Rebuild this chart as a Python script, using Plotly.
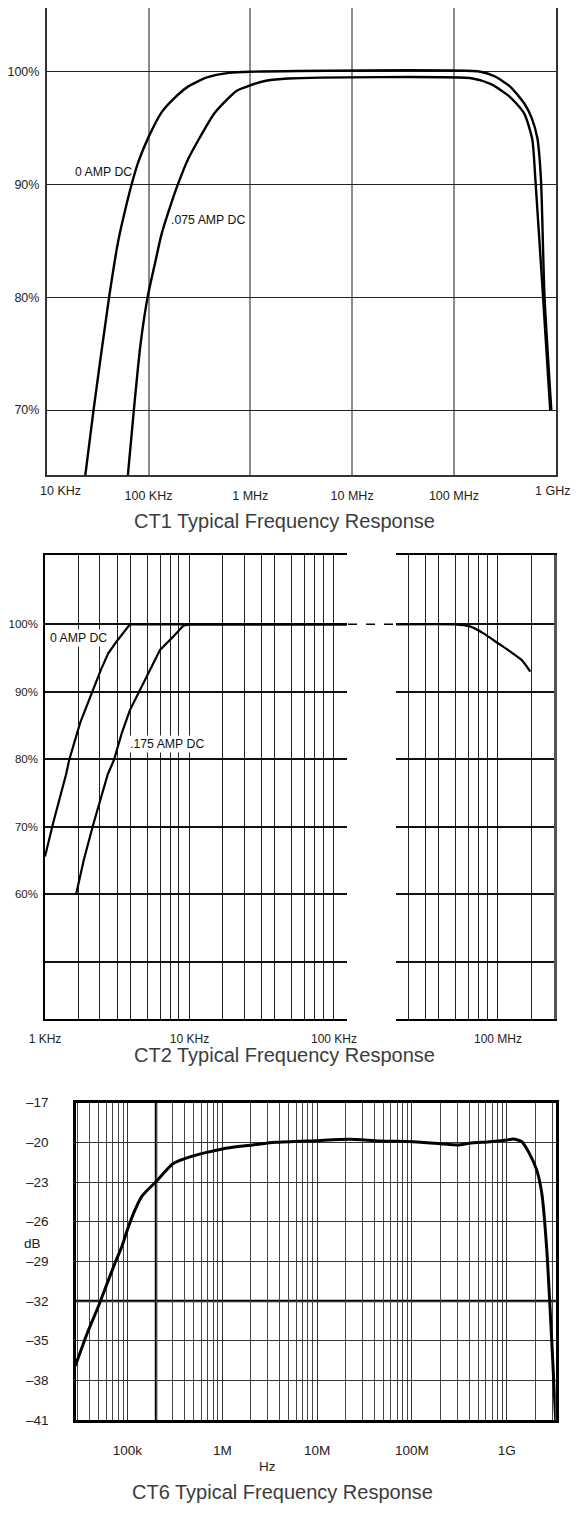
import math
import plotly.graph_objects as go

FONT = "Liberation Sans, Arial, sans-serif"
# page body keeps an 8px margin, so the figure is drawn 8px in from the window edge
PAGE_PAD = 8
W, H = 580 - 2 * PAGE_PAD, 1520 - 2 * PAGE_PAD

# ---- CT1 (percent vs frequency, Hz)
ct1_hz_0a = [23700, 28840, 41020, 50470, 62230, 69180, 79430, 100000, 134300, 176600,
             246600, 375000, 616600, 1.0e6, 1.82e8, 2.51e8, 3.548e8, 4.898e8,
             5.754e8, 6.607e8, 7.161e8, 7.762e8, 9.057e8]
ct1_pct_0a = [63.9, 70.0, 80.0, 85.0, 88.6, 90.2, 92.0, 94.2, 96.4, 97.6,
              98.7, 99.5, 99.9, 100.0, 100.0, 99.6, 98.7, 97.2,
              96.0, 94.1, 90.5, 80.1, 70.0]
ct1_hz_075a = [62400, 71800, 83400, 98400, 116400, 134300, 162600, 192300, 246600,
               316200, 442600, 731100, 1.0e6, 1.426e6, 2.35e6, 1.528e8, 2.317e8,
               3.524e8, 4.898e8, 5.888e8, 6.31e8, 7.464e8, 8.831e8]
ct1_pct_075a = [64.0, 70.0, 75.8, 80.1, 83.1, 85.6, 88.0, 89.9, 92.3,
                94.1, 96.3, 98.3, 98.8, 99.2, 99.4, 99.4, 98.9,
                97.8, 96.3, 94.0, 90.5, 80.4, 70.0]
ct1_ticks_hz = [1e5, 1e6, 1e7, 1e8]
ct1_ticks_txt = ["100 KHz", "1 MHz", "10 MHz", "100 MHz"]
ct1_pct_ticks = [70, 80, 90, 100]

# ---- CT2
ct2_hz_0a = [1000, 1140, 1400, 1470, 1750, 2050, 2440, 2740, 3140, 3870, 125000]
ct2_pct_0a = [65.6, 70.6, 77.8, 79.9, 85.4, 89.3, 93.3, 95.7, 97.5, 100.0, 100.0]
ct2_hz_175a = [1640, 1850, 2140, 2390, 2720, 3000, 3400, 3870, 5060, 6250, 7730,
               9060, 10000, 125000]
ct2_pct_175a = [60.0, 65.0, 70.1, 73.7, 77.8, 79.9, 83.9, 87.3, 92.3, 96.2, 98.2,
                99.8, 100.0, 100.0]
ct2_hf_hz = [1.9e7, 5.05e7, 6.4e7, 7.9e7, 1.0e8, 1.21e8, 1.46e8, 1.67e8]
ct2_hf_pct = [100.0, 100.0, 99.7, 98.7, 97.2, 96.0, 94.7, 93.0]
ct2_grid_steps = [1, 1.7, 2.4, 3.15, 3.9, 5.1, 6.3, 7.35, 8.45]
ct2_labels = {1e3: "1 KHz", 1e4: "10 KHz", 1e5: "100 KHz", 1e8: "100 MHz"}
ct2_pct_ticks = [50, 60, 70, 80, 90, 100]
ct2_pct_txt = ["", "60%", "70%", "80%", "90%", "100%"]

# ---- CT6 (dB vs Hz)
ct6_hz = [28200, 37800, 49400, 59300, 74100, 87000, 100000, 117000, 141000, 198000,
          304000, 457000, 1.0e6, 1.54e6, 2.09e6, 3.61e6, 9.73e6, 2.19e7, 4.6e7,
          1.035e8, 1.98e8, 3.04e8, 4.03e8, 6.67e8, 1.0e9, 1.175e9, 1.44e9, 1.69e9,
          2.07e9, 2.34e9, 2.64e9, 3.28e9]
ct6_db = [-36.9, -34.4, -32.4, -30.9, -29.1, -27.9, -26.6, -25.3, -24.1, -23.0,
          -21.6, -21.1, -20.5, -20.3, -20.2, -20.0, -19.87, -19.77, -19.9,
          -19.95, -20.1, -20.2, -20.07, -19.95, -19.82, -19.75, -19.95, -20.7,
          -22.1, -23.85, -28.1, -41.0]
ct6_ticks_hz = [1e5, 1e6, 1e7, 1e8, 1e9]
ct6_ticks_txt = ["100k", "1M", "10M", "100M", "1G"]
ct6_db_ticks = [-41, -38, -35, -32, -29, -26, -23, -20, -17]
ct6_bold_hz = [2e5]
ct6_bold_db = [-32]


def px_x(p):
    return min(1.0, max(0.0, (p - PAGE_PAD) / W))


def px_y(p):
    return min(1.0, max(0.0, 1 - (p - PAGE_PAD) / H))


fig = go.Figure()

for xs, ys in [(ct1_hz_0a, ct1_pct_0a), (ct1_hz_075a, ct1_pct_075a)]:
    fig.add_trace(go.Scatter(x=xs, y=ys, mode="lines", xaxis="x", yaxis="y",
                             line=dict(color="black", width=2.4, shape="spline",
                                       smoothing=0.6)))
for xs, ys in [(ct2_hz_0a, ct2_pct_0a), (ct2_hz_175a, ct2_pct_175a)]:
    fig.add_trace(go.Scatter(x=xs, y=ys, mode="lines", xaxis="x2", yaxis="y2",
                             line=dict(color="black", width=2.2)))
fig.add_trace(go.Scatter(x=ct2_hf_hz, y=ct2_hf_pct, mode="lines", xaxis="x3", yaxis="y3",
                         line=dict(color="black", width=2.2, shape="spline", smoothing=0.5)))
fig.add_trace(go.Scatter(x=ct6_hz, y=ct6_db, mode="lines", xaxis="x4", yaxis="y4",
                         line=dict(color="black", width=3, shape="spline", smoothing=0.6)))

# ct2 grid (hand-drawn log paper)
ct2_lo_rng = [3.0, 5.088]
ct2_hi_rng = [7.297, 8.384]
grid_lo, grid_hi = [], []
for dec in [1e3, 1e4, 1e5, 1e7, 1e8]:
    for s in ct2_grid_steps:
        v = round(s * dec)
        lv = math.log10(v)
        if ct2_lo_rng[0] - 1e-6 <= lv <= ct2_lo_rng[1]:
            grid_lo.append(v)
        if ct2_hi_rng[0] < lv < ct2_hi_rng[1] - 0.01:
            grid_hi.append(v)
txt_lo = [ct2_labels.get(v, "") for v in grid_lo]
txt_hi = [ct2_labels.get(v, "") for v in grid_hi]

# ct6 minor grid
ct6_rng = [4.457, 9.516]
ct6_minor = []
for d in range(4, 10):
    for m in range(2, 10):
        v = m * 10 ** d
        if ct6_rng[0] < math.log10(v) < ct6_rng[1]:
            ct6_minor.append(v)

tick_font = dict(family=FONT, size=12.5, color="#222")

fig.update_layout(
    width=W, height=H, autosize=False,
    margin=dict(l=0, r=0, t=0, b=0, pad=0),
    paper_bgcolor="white", plot_bgcolor="white",
    showlegend=False,
    font=dict(family=FONT, color="#222"),
    # CT1
    xaxis=dict(type="log", range=[4, 9], domain=[px_x(46.7), px_x(555.7)], anchor="y",
               tickvals=ct1_ticks_hz, ticktext=ct1_ticks_txt, ticks="",
               tickfont=tick_font, ticklabelstandoff=8,
               showgrid=True, gridcolor="#8c8c8c", gridwidth=1.5,
               showline=True, mirror=True, linecolor="#333", linewidth=1.5,
               zeroline=False),
    yaxis=dict(range=[64.24, 105.65], domain=[px_y(475), px_y(8)], anchor="x",
               tickvals=ct1_pct_ticks, ticktext=[f"{v}%" for v in ct1_pct_ticks],
               ticks="", tickfont=dict(family=FONT, size=12.5, color="#222"),
               ticklabelstandoff=3,
               showgrid=True, gridcolor="#222", gridwidth=1,
               showline=True, mirror=True, linecolor="#333", linewidth=1.5,
               zeroline=False),
    # CT2 low band
    xaxis2=dict(type="log", range=ct2_lo_rng, domain=[px_x(45), px_x(346.7)], anchor="y2",
                tickvals=grid_lo, ticktext=txt_lo, ticks="",
                tickfont=dict(family=FONT, size=12, color="#222"), ticklabelstandoff=8,
                showgrid=True, gridcolor="#222", gridwidth=1.2,
                showline=True, mirror=True, linecolor="black", linewidth=1.5,
                zeroline=False),
    yaxis2=dict(range=[41.5, 110.3], domain=[px_y(1019.3), px_y(554.8)], anchor="x2",
                tickvals=ct2_pct_ticks, ticktext=ct2_pct_txt, ticks="",
                tickfont=dict(family=FONT, size=11.5, color="#222"), ticklabelstandoff=3,
                showgrid=True, gridcolor="#111", gridwidth=1.5,
                showline=True, mirror=False, linecolor="black", linewidth=1.5,
                zeroline=False),
    # CT2 high band
    xaxis3=dict(type="log", range=ct2_hi_rng, domain=[px_x(396), px_x(553.7)], anchor="y3",
                tickvals=grid_hi, ticktext=txt_hi, ticks="",
                tickfont=dict(family=FONT, size=12, color="#222"), ticklabelstandoff=8,
                showgrid=True, gridcolor="#222", gridwidth=1.2,
                showline=True, mirror=True, linecolor="black", linewidth=1.5,
                zeroline=False),
    yaxis3=dict(range=[41.5, 110.3], domain=[px_y(1019.3), px_y(554.8)], anchor="x3",
                side="right", tickvals=ct2_pct_ticks, showticklabels=False, ticks="",
                showgrid=True, gridcolor="#111", gridwidth=1.5,
                showline=True, mirror=False, linecolor="#555", linewidth=2.5,
                zeroline=False),
    # CT6
    xaxis4=dict(type="log", range=ct6_rng, domain=[px_x(76), px_x(555.7)], anchor="y4",
                tickvals=ct6_ticks_hz, ticktext=ct6_ticks_txt, ticks="",
                tickfont=dict(family=FONT, size=13.5, color="#222"), ticklabelstandoff=16,
                showgrid=True, gridcolor="#333", gridwidth=1,
                minor=dict(tickvals=ct6_minor, showgrid=True, gridcolor="#444",
                           gridwidth=1, ticks=""),
                showline=True, mirror=True, linecolor="black", linewidth=2.5,
                zeroline=False),
    yaxis4=dict(range=[-41, -17], domain=[px_y(1420), px_y(1102.7)], anchor="x4",
                tickvals=ct6_db_ticks,
                ticktext=[f"\u2013{abs(v)}" for v in ct6_db_ticks], ticks="",
                tickfont=dict(family=FONT, size=13.5, color="#222"), ticklabelstandoff=22,
                showgrid=True, gridcolor="#333", gridwidth=1,
                showline=True, mirror=True, linecolor="black", linewidth=2.5,
                zeroline=False),
)
# keep the hand-placed domains: no automatic margin growth
fig.update_xaxes(automargin=False)
fig.update_yaxes(automargin=False)

shapes = [
    # 1 MHz line drawn darker on CT1
    dict(type="line", xref="x", yref="paper", x0=1e6, x1=1e6,
         y0=px_y(475), y1=px_y(8), line=dict(color="black", width=1.3), layer="below"),
    # dashed bridge across the CT2 band gap
    dict(type="line", xref="paper", yref="y2", x0=px_x(348), x1=px_x(394),
         y0=100, y1=100, line=dict(color="black", width=1.5, dash="dash")),
]
for f in ct6_bold_hz:
    shapes.append(dict(type="line", xref="x4", yref="paper", x0=f, x1=f,
                       y0=px_y(1420), y1=px_y(1102.7),
                       line=dict(color="black", width=2.5), layer="below"))
for d in ct6_bold_db:
    shapes.append(dict(type="line", xref="paper", yref="y4", x0=px_x(76), x1=px_x(555.7),
                       y0=d, y1=d, line=dict(color="black", width=2.5), layer="below"))
fig.update_layout(shapes=shapes)

lab = dict(family=FONT, size=12.3, color="#111")
title_font = dict(family=FONT, size=20, color="#3c3c3c")
ann = [
    dict(text="10 KHz", xref="x", yref="paper", x=4, y=px_y(490.7), xshift=14,
         showarrow=False, font=tick_font),
    dict(text="1 GHz", xref="x", yref="paper", x=9, y=px_y(490.7), xshift=-3,
         showarrow=False, font=tick_font),
    dict(text="0 AMP DC", x=px_x(73), y=px_y(171.7), xanchor="left"),
    dict(text=".075 AMP DC", x=px_x(168.5), y=px_y(219.7), xanchor="left"),
    dict(text="0 AMP DC", x=px_x(48.3), y=px_y(638.3), xanchor="left", bgcolor="white"),
    dict(text=".175 AMP DC", x=px_x(128.3), y=px_y(744.3), xanchor="left", bgcolor="white"),
    dict(text="CT1 Typical Frequency Response", x=px_x(284), y=px_y(521), font=title_font),
    dict(text="CT2 Typical Frequency Response", x=px_x(284), y=px_y(1055), font=title_font),
    dict(text="CT6 Typical Frequency Response", x=px_x(282), y=px_y(1491.5), font=title_font),
    dict(text="dB", x=px_x(22), y=px_y(1243),
         font=dict(family=FONT, size=13.5, color="#222")),
    dict(text="Hz", x=px_x(267), y=px_y(1466.7),
         font=dict(family=FONT, size=13.5, color="#222")),
]
for a in ann:
    a.setdefault("xref", "paper")
    a.setdefault("yref", "paper")
    a.setdefault("showarrow", False)
    a.setdefault("font", lab)
    a.setdefault("yanchor", "middle")
fig.update_layout(annotations=ann)

fig.write_html("out.html")
